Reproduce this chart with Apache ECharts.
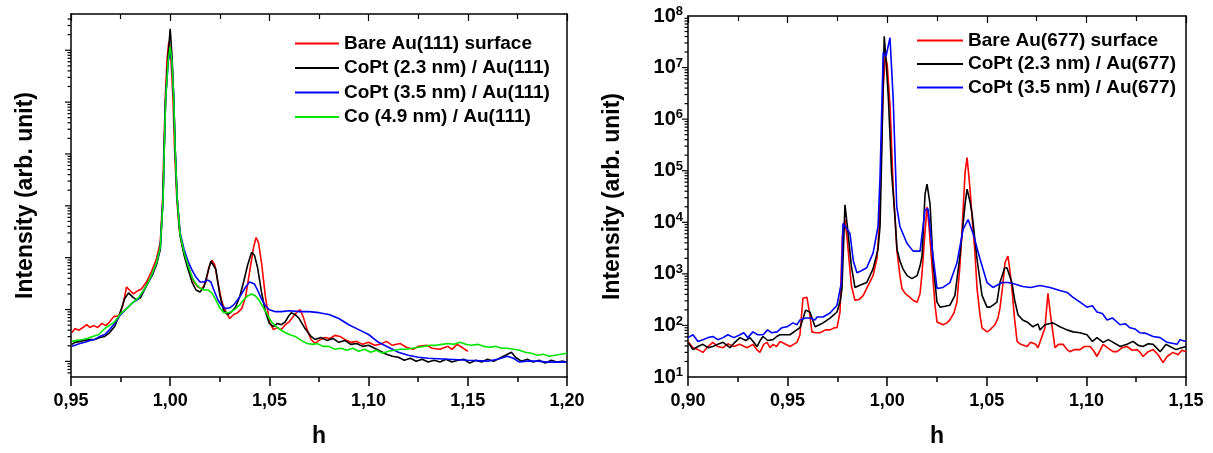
<!DOCTYPE html>
<html><head><meta charset="utf-8">
<script src="https://cdn.jsdelivr.net/npm/echarts@6/dist/echarts.min.js"></script>
<style>html,body{margin:0;padding:0;background:#fff}#c{width:1213px;height:453px}</style>
</head><body><div id="c"></div>
<script>
// ---------- DATA ----------
const leftNames = ['Bare Au(111) surface', 'CoPt (2.3 nm) / Au(111)', 'CoPt (3.5 nm) / Au(111)', 'Co (4.9 nm) / Au(111)'];
const rightNames = ['Bare Au(677) surface', 'CoPt (2.3 nm) / Au(677)', 'CoPt (3.5 nm) / Au(677)'];
const xTitle = 'h';
const yTitle = 'Intensity (arb. unit)';

// Left panel: [h, intensity]
const leftBare = [[0.9505,36],[0.952,43],[0.954,40],[0.956,45],[0.958,51],[0.9595,45],[0.9615,49],[0.9635,45],[0.9655,54],[0.9675,49],[0.9695,58],[0.9715,73],[0.974,76],[0.976,113],[0.978,272],[0.98,228],[0.9815,200],[0.9835,228],[0.9855,249],[0.988,339],[0.9905,526],[0.993,930],[0.995,1960],[0.9962,1.42e4],[0.9968,1.27e5],[0.9975,1.15e6],[0.9984,6.6e6],[0.9993,1.46e7],[1.0004,6.6e6],[1.0014,1.15e6],[1.0022,1.27e5],[1.0033,1.42e4],[1.0045,3600],[1.006,1720],[1.008,930],[1.01,526],[1.012,339],[1.014,272],[1.016,249],[1.018,339],[1.0195,655],[1.021,891],[1.0225,714],[1.024,339],[1.026,141],[1.028,91],[1.03,67],[1.032,80],[1.034,87],[1.036,104],[1.038,175],[1.04,526],[1.042,1580],[1.0433,2445],[1.0445,1960],[1.046,815],[1.048,175],[1.05,58],[1.052,41],[1.054,45],[1.056,41],[1.058,51],[1.06,58],[1.062,73],[1.064,91],[1.0655,99],[1.067,73],[1.069,41],[1.071,26.5],[1.073,22.2],[1.075,25.4],[1.078,29],[1.0805,27.7],[1.083,31.7],[1.0856,30.3],[1.088,26.5],[1.091,23.3],[1.094,24.3],[1.097,21.3],[1.1,23.3],[1.103,20.4],[1.1057,21.3],[1.109,24.3],[1.112,20.4],[1.1158,22.2],[1.119,18.7],[1.1224,17.1],[1.125,19.5],[1.1294,20.4],[1.132,17.9],[1.136,17.1],[1.14,19.5],[1.142,17.1],[1.1446,21.3],[1.147,18.7],[1.15,15.7]];
const leftCoPt23 = [[0.9505,21.3],[0.952,23.3],[0.9545,24.3],[0.957,25.4],[0.9595,26.5],[0.962,26.5],[0.9645,29],[0.967,30.3],[0.9695,36],[0.972,47],[0.9745,80],[0.977,161],[0.979,209],[0.981,175],[0.983,154],[0.985,168],[0.987,238],[0.989,339],[0.991,461],[0.993,714],[0.995,1440],[0.9964,1.42e4],[0.997,1.27e5],[0.9977,1.15e6],[0.9988,6.6e6],[1.0,2.59e7],[1.001,6.6e6],[1.0018,1.15e6],[1.0025,1.27e5],[1.0035,1.42e4],[1.005,2670],[1.007,1110],[1.009,600],[1.011,339],[1.013,238],[1.015,218],[1.017,272],[1.019,526],[1.0205,853],[1.0215,891],[1.023,600],[1.025,191],[1.027,95],[1.029,80],[1.031,91],[1.033,113],[1.035,175],[1.037,339],[1.039,714],[1.041,1265],[1.0425,1110],[1.044,655],[1.046,218],[1.048,91],[1.05,54],[1.052,47],[1.054,54],[1.056,51],[1.058,58],[1.0595,73],[1.061,87],[1.063,80],[1.065,67],[1.068,43],[1.071,30.3],[1.073,26.5],[1.076,29],[1.079,25.4],[1.082,27.7],[1.085,23.3],[1.088,25.4],[1.091,21.3],[1.094,22.2],[1.097,19.5],[1.1,20.4],[1.103,17.9],[1.106,15.7],[1.109,13.7],[1.112,12.6],[1.115,12],[1.118,10.5],[1.121,11.5],[1.124,10.1],[1.127,11],[1.13,9.7],[1.133,10.5],[1.136,9.7],[1.139,11],[1.142,9.7],[1.145,10.5],[1.148,11],[1.151,9.25],[1.154,10.5],[1.157,9.7],[1.16,11],[1.163,10.1],[1.166,11.5],[1.169,13.1],[1.172,15],[1.174,12],[1.177,10.1],[1.18,11],[1.183,9.7],[1.186,10.5],[1.189,9.25],[1.192,10.5],[1.195,9.7],[1.198,10.1],[1.2,9.7]];
const leftCoPt35 = [[0.9505,19.5],[0.952,20.4],[0.9545,22.2],[0.957,23.3],[0.9595,25.4],[0.962,26.5],[0.9645,30.3],[0.967,33],[0.9695,41],[0.972,54],[0.975,80],[0.978,104],[0.981,135],[0.984,161],[0.987,249],[0.989,339],[0.991,482],[0.993,780],[0.995,1580],[0.9964,1.42e4],[0.997,1.27e5],[0.9977,1.15e6],[0.999,6e6],[1.0,9.4e6],[1.0009,6e6],[1.0018,1.15e6],[1.0025,1.27e5],[1.0035,1.42e4],[1.005,3050],[1.007,1440],[1.009,853],[1.011,574],[1.013,422],[1.015,339],[1.017,339],[1.019,370],[1.0205,339],[1.022,238],[1.024,154],[1.026,118],[1.028,104],[1.03,108],[1.032,123],[1.034,154],[1.036,200],[1.038,272],[1.04,339],[1.041,354],[1.0425,310],[1.044,238],[1.046,161],[1.048,118],[1.05,99],[1.053,91],[1.056,91],[1.06,95],[1.065,91],[1.07,91],[1.075,87],[1.08,80],[1.085,67],[1.09,51],[1.095,41],[1.1,33],[1.105,23.3],[1.11,18.7],[1.115,15],[1.12,13.1],[1.125,12],[1.13,11.5],[1.14,11],[1.15,10.5],[1.16,10.1],[1.165,11],[1.17,12.6],[1.173,11.5],[1.176,9.7],[1.18,10.1],[1.185,10.1],[1.19,9.7],[1.2,9.7]];
const leftCo49 = [[0.9505,24.3],[0.953,25.4],[0.956,26.5],[0.958,27.7],[0.961,30.3],[0.964,33],[0.967,43],[0.97,51],[0.972,58],[0.975,83],[0.978,104],[0.981,135],[0.984,168],[0.987,249],[0.989,339],[0.991,504],[0.993,780],[0.995,1580],[0.9964,1.3e4],[0.997,1.2e5],[0.9977,1.1e6],[0.999,6.5e6],[1.0,1.17e7],[1.0009,6e6],[1.0018,1.1e6],[1.0025,1.2e5],[1.0035,1.35e4],[1.005,2790],[1.007,1265],[1.009,714],[1.011,422],[1.013,310],[1.015,260],[1.017,238],[1.019,238],[1.021,209],[1.023,154],[1.025,108],[1.027,87],[1.029,87],[1.031,91],[1.033,104],[1.035,123],[1.037,154],[1.039,183],[1.041,200],[1.043,183],[1.045,147],[1.047,108],[1.049,80],[1.051,58],[1.054,45],[1.057,37.7],[1.06,33],[1.063,30.3],[1.066,25.4],[1.069,22.2],[1.072,21.3],[1.074,22.2],[1.077,19.5],[1.08,19.5],[1.083,17.1],[1.086,17.9],[1.089,16.4],[1.092,17.9],[1.095,15.7],[1.098,17.1],[1.101,15],[1.104,16.4],[1.107,14.3],[1.11,15.7],[1.113,16.4],[1.116,17.1],[1.119,17.1],[1.122,17.9],[1.125,18.7],[1.128,19.5],[1.131,20.4],[1.134,20.4],[1.137,21.3],[1.14,22.2],[1.143,21.3],[1.146,23.3],[1.149,21.3],[1.152,20.4],[1.155,21.3],[1.158,19.5],[1.161,18.7],[1.164,19.5],[1.167,17.9],[1.17,17.9],[1.173,17.1],[1.176,16.4],[1.179,15],[1.182,14.3],[1.185,13.1],[1.188,13.7],[1.191,12.6],[1.194,13.1],[1.197,13.7],[1.2,14.3]];

// Right panel: [h, intensity]
const rightBare = [[0.9,49],[0.9025,37],[0.905,34],[0.9075,30],[0.91,39],[0.9125,47],[0.915,39],[0.9176,37],[0.92,44],[0.923,39],[0.926,43],[0.9296,37],[0.9326,43],[0.9345,34],[0.9361,30],[0.938,43],[0.9397,47],[0.9412,37],[0.9427,43],[0.9445,39],[0.9462,49],[0.949,43],[0.9512,39],[0.953,43],[0.9547,47],[0.9562,66],[0.9577,336],[0.9597,351],[0.9612,159],[0.9622,75],[0.964,72],[0.9663,72],[0.969,82],[0.9713,82],[0.9735,90],[0.9748,90],[0.9763,182],[0.9775,5340],[0.9788,11300],[0.98,4290],[0.982,594],[0.9838,308],[0.986,320],[0.988,383],[0.9897,521],[0.9929,922],[0.9949,2030],[0.996,8280],[0.997,1.79e5],[0.998,3.88e6],[0.999,1.65e7],[1.0,1.16e7],[1.0015,1.61e6],[1.003,4.8e4],[1.0049,2760],[1.0064,922],[1.0074,521],[1.009,418],[1.0114,351],[1.013,308],[1.015,282],[1.0165,418],[1.0175,1050],[1.019,6650],[1.02,2.0e4],[1.021,8280],[1.0225,1430],[1.024,247],[1.025,117],[1.028,103],[1.03,112],[1.0315,128],[1.0335,174],[1.035,282],[1.0365,1430],[1.0376,7260],[1.0391,9.3e4],[1.0401,1.79e5],[1.0415,4.8e4],[1.0426,12800],[1.044,2760],[1.0451,521],[1.0466,159],[1.0476,90],[1.0501,75],[1.0516,82],[1.0531,94],[1.0541,103],[1.0556,139],[1.0566,216],[1.058,594],[1.0591,1630],[1.0606,2220],[1.0616,1150],[1.0626,521],[1.064,128],[1.0652,49],[1.067,43],[1.0702,39],[1.072,47],[1.0745,43],[1.0757,37],[1.0775,58],[1.0792,90],[1.0807,418],[1.082,159],[1.0842,37],[1.086,43],[1.0883,43],[1.0903,34],[1.0918,31],[1.094,34],[1.0968,34],[1.099,39],[1.1018,39],[1.1035,33],[1.1053,25],[1.1084,43],[1.111,36],[1.1134,31],[1.1154,31],[1.118,37],[1.1204,39],[1.123,33],[1.1254,34],[1.127,30],[1.1284,25],[1.131,31],[1.1335,34],[1.136,27],[1.1385,19],[1.1405,25],[1.1435,30],[1.146,27],[1.148,33],[1.15,31]];
const rightCoPt23 = [[0.9,47],[0.9025,34],[0.905,39],[0.9075,43],[0.91,37],[0.9125,39],[0.915,43],[0.9176,47],[0.9211,37],[0.9235,47],[0.9261,58],[0.929,51],[0.9311,58],[0.933,47],[0.9346,39],[0.9365,53],[0.9377,61],[0.94,51],[0.9427,53],[0.9445,61],[0.9462,66],[0.949,66],[0.9512,66],[0.954,79],[0.9562,90],[0.958,146],[0.959,198],[0.9612,182],[0.9638,94],[0.966,103],[0.9678,112],[0.9713,139],[0.9748,182],[0.9765,308],[0.9773,521],[0.9788,21800],[0.98,8280],[0.982,1430],[0.9838,545],[0.986,594],[0.9897,678],[0.9929,1250],[0.9954,3020],[0.9964,8280],[0.9972,1.79e5],[0.9979,3.88e6],[0.9985,4.03e7],[0.9994,1.45e7],[1.0006,2.5e6],[1.0022,9.27e4],[1.0039,12800],[1.0049,3020],[1.0064,1780],[1.0079,1250],[1.01,922],[1.0124,808],[1.015,922],[1.0165,1430],[1.0175,2220],[1.019,35300],[1.02,54700],[1.0215,22800],[1.023,1630],[1.025,282],[1.0265,226],[1.029,236],[1.0315,247],[1.034,383],[1.0365,2220],[1.0391,22800],[1.0401,43900],[1.0416,24800],[1.0426,14700],[1.0451,1940],[1.0476,383],[1.0501,226],[1.0516,226],[1.0531,247],[1.0551,282],[1.0566,678],[1.059,1310],[1.0601,1310],[1.0626,678],[1.064,308],[1.0657,159],[1.068,128],[1.0702,117],[1.0732,94],[1.0757,107],[1.0767,82],[1.0792,103],[1.0807,107],[1.0832,112],[1.0867,94],[1.0903,82],[1.0933,75],[1.0968,72],[1.1003,66],[1.103,49],[1.1053,58],[1.1084,47],[1.111,53],[1.1134,47],[1.117,39],[1.1204,43],[1.1234,49],[1.126,41],[1.1284,39],[1.131,44],[1.1335,43],[1.137,31],[1.14,43],[1.142,39],[1.145,34],[1.147,36],[1.15,39]];
const rightCoPt35 = [[0.9,58],[0.9025,66],[0.905,49],[0.9075,53],[0.91,58],[0.9125,61],[0.915,53],[0.9176,58],[0.92,66],[0.923,58],[0.9261,66],[0.928,72],[0.93,58],[0.9326,75],[0.935,66],[0.9377,66],[0.94,82],[0.942,72],[0.9447,75],[0.947,90],[0.9497,94],[0.9527,112],[0.9547,103],[0.9562,128],[0.959,139],[0.9612,139],[0.9638,128],[0.9648,146],[0.9678,146],[0.9713,174],[0.9748,247],[0.977,678],[0.9778,9440],[0.98,7260],[0.9813,6090],[0.983,1780],[0.9848,1050],[0.987,1150],[0.9897,1310],[0.9929,2530],[0.9954,8280],[0.9964,7.45e4],[0.9974,2.5e6],[0.998,1.97e7],[0.9994,1.65e7],[1.0014,3.8e7],[1.003,2.5e6],[1.0048,2.0e4],[1.0064,8280],[1.0099,3930],[1.013,2760],[1.0165,2760],[1.019,17500],[1.0205,18300],[1.023,2220],[1.025,521],[1.028,545],[1.0315,678],[1.035,1630],[1.0381,7260],[1.0406,11300],[1.0431,6090],[1.0466,1940],[1.0501,678],[1.0531,545],[1.0576,678],[1.0606,678],[1.0631,649],[1.068,569],[1.072,545],[1.0767,594],[1.0817,545],[1.0867,477],[1.0903,437],[1.0933,351],[1.0968,282],[1.1003,226],[1.103,240],[1.1053,182],[1.108,170],[1.1104,128],[1.113,140],[1.1169,103],[1.1195,108],[1.1219,90],[1.1245,85],[1.1269,72],[1.13,70],[1.1335,61],[1.137,58],[1.1405,47],[1.1455,43],[1.147,53],[1.15,49]];

// ---------- STYLE ----------
const leftColors = ['#ff0000', '#000000', '#0000ff', '#00e600'];
const rightColors = ['#ff0000', '#000000', '#0000ff'];
const FONT = "'Liberation Sans', Arial, sans-serif";

function logTicks(lo, hi) {
  const out = [];
  for (let e = -1; e <= 9; e++) {
    for (let m = 1; m <= 9; m++) {
      const v = m * Math.pow(10, e);
      if (v > lo * 1.0001 && v < hi * 0.9999) out.push([v, m === 1 ? 1 : 0]);
    }
  }
  return out;
}
function tickSeries(xi, yi, xPos, ticks) {
  return {
    type: 'custom', xAxisIndex: xi, yAxisIndex: yi, silent: true, clip: false, z: 5,
    data: ticks.map(t => [xPos, t[0], t[1]]),
    encode: { x: 0, y: 1 },
    renderItem: (params, api) => {
      const p = api.coord([api.value(0), api.value(1)]);
      const len = api.value(2) ? 6 : 3.5;
      return { type: 'line', shape: { x1: p[0] - len, y1: p[1], x2: p[0], y2: p[1] }, style: { stroke: '#000', lineWidth: 1.2 } };
    }
  };
}

const L = { xMin: 0.95, xMax: 1.20, yMin: 5, yMax: 5e7 };
const R = { xMin: 0.90, xMax: 1.15, yMin: 10, yMax: 1e8 };

const axisLine = { show: true, lineStyle: { color: '#000', width: 1.5 } };
function bottomX(grid, r) {
  return {
    type: 'value', gridIndex: grid, min: r.xMin, max: r.xMax, interval: 0.05,
    name: xTitle, nameLocation: 'middle', nameGap: 48,
    nameTextStyle: { fontFamily: FONT, fontWeight: 'bold', fontSize: 23, color: '#000' },
    axisLine: axisLine,
    axisTick: { show: true, length: 9, lineStyle: { color: '#000', width: 1.5 } },
    minorTick: { show: true, splitNumber: 2, length: 5, lineStyle: { color: '#000', width: 1.5 } },
    axisLabel: { margin: 15, fontFamily: FONT, fontWeight: 'bold', fontSize: 18, color: '#000',
      formatter: v => v.toFixed(2).replace('.', ',') },
    splitLine: { show: false }, minorSplitLine: { show: false }
  };
}
function topX(grid, r) {
  return {
    type: 'value', gridIndex: grid, position: 'top', min: r.xMin, max: r.xMax, interval: 0.05,
    axisLine: axisLine,
    axisTick: { show: true, inside: true, length: 7, lineStyle: { color: '#000', width: 1.2 } },
    minorTick: { show: true, splitNumber: 2, length: 5, lineStyle: { color: '#000', width: 1.2 } },
    axisLabel: { show: false }, splitLine: { show: false }
  };
}

const series = [];
[leftBare, leftCoPt23, leftCoPt35, leftCo49].forEach((d, i) => {
  series.push({ name: leftNames[i], type: 'line', xAxisIndex: 0, yAxisIndex: 0, data: d,
    showSymbol: false, symbol: 'none', clip: true,
    lineStyle: { color: leftColors[i], width: 1.6 }, itemStyle: { color: leftColors[i] } });
});
[rightBare, rightCoPt23, rightCoPt35].forEach((d, i) => {
  series.push({ name: rightNames[i], type: 'line', xAxisIndex: 1, yAxisIndex: 1, data: d,
    showSymbol: false, symbol: 'none', clip: true,
    lineStyle: { color: rightColors[i], width: 1.6 }, itemStyle: { color: rightColors[i] } });
});
series.push(tickSeries(0, 0, L.xMin, logTicks(L.yMin, L.yMax)));
series.push(tickSeries(1, 1, R.xMin, logTicks(R.yMin, R.yMax)));

const legendText = { fontFamily: FONT, fontWeight: 'bold', fontSize: 19, color: '#000' };
const option = {
  animation: false,
  backgroundColor: '#fff',
  grid: [
    { left: 71, top: 14, width: 496, height: 367, show: false },
    { left: 688, top: 16, width: 498, height: 367, show: false }
  ],
  legend: [
    { data: leftNames, orient: 'vertical', left: 295, top: 34, itemWidth: 44, itemHeight: 2, icon: 'rect', itemGap: 5.5,
      padding: 0, textStyle: legendText, selectedMode: false },
    { data: rightNames, orient: 'vertical', left: 917, top: 31, itemWidth: 46, itemHeight: 2, icon: 'rect', itemGap: 4.5,
      padding: 0, textStyle: legendText, selectedMode: false }
  ],
  xAxis: [bottomX(0, L), bottomX(1, R), topX(0, L), topX(1, R)],
  yAxis: [
    { type: 'log', logBase: 10, gridIndex: 0, min: L.yMin, max: L.yMax,
      name: yTitle, nameLocation: 'middle', nameGap: 34, nameRotate: 90,
      nameTextStyle: { fontFamily: FONT, fontWeight: 'bold', fontSize: 23, color: '#000' },
      axisLine: axisLine, axisTick: { show: false }, axisLabel: { show: false },
      splitLine: { show: false } },
    { type: 'log', logBase: 10, gridIndex: 1, min: R.yMin, max: R.yMax,
      name: yTitle, nameLocation: 'middle', nameGap: 64, nameRotate: 90,
      nameTextStyle: { fontFamily: FONT, fontWeight: 'bold', fontSize: 23, color: '#000' },
      axisLine: axisLine, axisTick: { show: false },
      axisLabel: { margin: 5, color: '#000',
        formatter: v => '{b|10}{s|' + Math.round(Math.log10(v)) + '}',
        rich: {
          b: { fontFamily: FONT, fontWeight: 'bold', fontSize: 20, color: '#000', lineHeight: 22 },
          s: { fontFamily: FONT, fontWeight: 'bold', fontSize: 13, color: '#000', verticalAlign: 'top', lineHeight: 13 }
        } },
      splitLine: { show: false } },
    { type: 'log', logBase: 10, gridIndex: 0, position: 'right', min: L.yMin, max: L.yMax,
      axisLine: axisLine, axisTick: { show: false }, axisLabel: { show: false }, splitLine: { show: false } },
    { type: 'log', logBase: 10, gridIndex: 1, position: 'right', min: R.yMin, max: R.yMax,
      axisLine: axisLine, axisTick: { show: false }, axisLabel: { show: false }, splitLine: { show: false } }
  ],
  series: series
};
const chart = echarts.init(document.getElementById('c'), null, { renderer: 'canvas' });
chart.setOption(option);
</script>
</body></html>
